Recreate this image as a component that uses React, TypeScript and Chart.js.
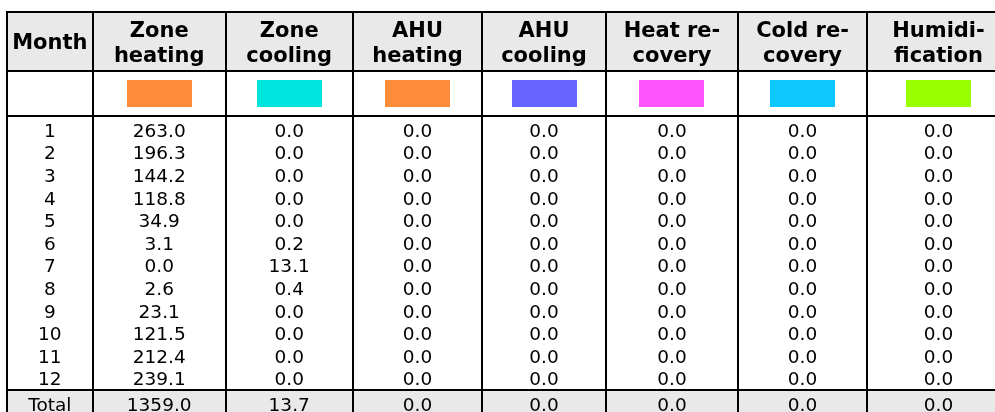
import React, { useEffect, useRef } from "react";
import { Chart, registerables } from "chart.js";

Chart.register(...registerables);

// ---- data ----
const months = ["1", "2", "3", "4", "5", "6", "7", "8", "9", "10", "11", "12"];
const firstHeader = "Month";
const totalLabel = "Total";
const seriesHeaders = [
  ["Zone", "heating"],
  ["Zone", "cooling"],
  ["AHU", "heating"],
  ["AHU", "cooling"],
  ["Heat re-", "covery"],
  ["Cold re-", "covery"],
  ["Humidi-", "fication"],
];
const swatchColors = ["#FD8C3A", "#00E4DE", "#FD8C3A", "#6666FF", "#FF55FF", "#0DC7FF", "#99FF00"];
const zoneHeating = [263.0, 196.3, 144.2, 118.8, 34.9, 3.1, 0.0, 2.6, 23.1, 121.5, 212.4, 239.1];
const zoneCooling = [0.0, 0.0, 0.0, 0.0, 0.0, 0.2, 13.1, 0.4, 0.0, 0.0, 0.0, 0.0];
const ahuHeating = [0.0, 0.0, 0.0, 0.0, 0.0, 0.0, 0.0, 0.0, 0.0, 0.0, 0.0, 0.0];
const ahuCooling = [0.0, 0.0, 0.0, 0.0, 0.0, 0.0, 0.0, 0.0, 0.0, 0.0, 0.0, 0.0];
const heatRecovery = [0.0, 0.0, 0.0, 0.0, 0.0, 0.0, 0.0, 0.0, 0.0, 0.0, 0.0, 0.0];
const coldRecovery = [0.0, 0.0, 0.0, 0.0, 0.0, 0.0, 0.0, 0.0, 0.0, 0.0, 0.0, 0.0];
const humidification = [0.0, 0.0, 0.0, 0.0, 0.0, 0.0, 0.0, 0.0, 0.0, 0.0, 0.0, 0.0];
const totals = [1359.0, 13.7, 0.0, 0.0, 0.0, 0.0, 0.0];

const seriesValues = [zoneHeating, zoneCooling, ahuHeating, ahuCooling, heatRecovery, coldRecovery, humidification];

// ---- layout (scale units) ----
const W = 995;
const H = 412;
const TABLE_LEFT = 7;
const COL_W = [85.7, 133, 127, 129.6, 123.4, 132.6, 128.4, 143.6];
const TABLE_TOP = 12;
const HEADER_H = 58.7;
const SWATCH_ROW_H = 45.6;
const BODY_PAD = 2.4;
const ROW_H = 22.6;
const TOTAL_H = 28.8;
const SWATCH_W = 65;
const SWATCH_H = 27;
const DATA_FONT = 18.5;
const HEAD_FONT = 21;
const HEAD_LINE_GAP = 25.6;
const FAMILY = '"DejaVu Sans", Verdana, sans-serif';
const GRID = "#000000";
const HEAD_BG = "#E9E9E9";

const tablePlugin = {
  id: "tablePlugin",
  afterDraw(chart: any) {
    const ctx = chart.ctx as CanvasRenderingContext2D;
    const xs = chart.scales.x;
    const ys = chart.scales.y;
    const px = (v: number) => xs.getPixelForValue(v);
    const py = (v: number) => ys.getPixelForValue(v);

    const edges: number[] = [TABLE_LEFT];
    COL_W.forEach((w) => edges.push(edges[edges.length - 1] + w));
    const centers = COL_W.map((w, i) => edges[i] + w / 2);

    const headBottom = TABLE_TOP + HEADER_H;
    const swatchBottom = headBottom + SWATCH_ROW_H;
    const bodyTop = swatchBottom + BODY_PAD;
    const totalTop = bodyTop + months.length * ROW_H;
    const totalBottom = totalTop + TOTAL_H;
    const right = edges[edges.length - 1];

    ctx.save();
    // backgrounds
    ctx.fillStyle = HEAD_BG;
    ctx.fillRect(px(TABLE_LEFT), py(TABLE_TOP), px(right) - px(TABLE_LEFT), py(headBottom) - py(TABLE_TOP));
    ctx.fillRect(px(TABLE_LEFT), py(totalTop), px(right) - px(TABLE_LEFT), py(totalBottom) - py(totalTop));

    // swatches
    const swC = (headBottom + swatchBottom) / 2;
    swatchColors.forEach((c, i) => {
      const cx = centers[i + 1];
      const l = Math.round(px(cx - SWATCH_W / 2));
      const t = Math.round(py(swC - SWATCH_H / 2));
      ctx.fillStyle = c;
      ctx.fillRect(l, t, Math.round(px(cx + SWATCH_W / 2)) - l, Math.round(py(swC + SWATCH_H / 2)) - t);
    });

    // header text
    ctx.fillStyle = "#000";
    ctx.textAlign = "center";
    ctx.textBaseline = "alphabetic";
    ctx.font = `bold ${HEAD_FONT}px ${FAMILY}`;
    const capH = 0.729;
    const hc = (TABLE_TOP + headBottom) / 2;
    ctx.fillText(firstHeader, px(centers[0]), py(hc) + (capH * HEAD_FONT) / 2);
    seriesHeaders.forEach((lines, i) => {
      const cx = px(centers[i + 1]);
      lines.forEach((t, j) => {
        const c = hc + 0.6 + (j - (lines.length - 1) / 2) * HEAD_LINE_GAP;
        ctx.fillText(t, cx, py(c) + (capH * HEAD_FONT) / 2);
      });
    });

    // body text
    ctx.font = `${DATA_FONT}px ${FAMILY}`;
    const off = (capH * DATA_FONT) / 2;
    months.forEach((m, r) => {
      const c = bodyTop + (r + 0.5) * ROW_H;
      ctx.fillText(m, px(centers[0]), py(c) + off);
      seriesValues.forEach((vals, s) => {
        ctx.fillText(vals[r].toFixed(1), px(centers[s + 1]), py(c) + off);
      });
    });
    const tc = totalTop + TOTAL_H / 2;
    ctx.fillText(totalLabel, px(centers[0]), py(tc) + off);
    totals.forEach((v, s) => {
      ctx.fillText(v.toFixed(1), px(centers[s + 1]), py(tc) + off);
    });

    // grid lines
    ctx.strokeStyle = GRID;
    ctx.lineWidth = 2;
    const R = (v: number) => Math.round(v);
    ctx.beginPath();
    edges.forEach((e) => {
      ctx.moveTo(R(px(e)), R(py(TABLE_TOP)) - 1);
      ctx.lineTo(R(px(e)), R(py(totalBottom)) + 1);
    });
    [TABLE_TOP, headBottom, swatchBottom, totalTop, totalBottom].forEach((h) => {
      ctx.moveTo(R(px(TABLE_LEFT)) - 1, R(py(h)));
      ctx.lineTo(R(px(right)) + 1, R(py(h)));
    });
    ctx.stroke();
    ctx.restore();
  },
};

export default function App() {
  const ref = useRef<HTMLCanvasElement | null>(null);
  useEffect(() => {
    if (!ref.current) return;
    const chart = new Chart(ref.current, {
      type: "scatter",
      data: { datasets: [] },
      options: {
        animation: false,
        responsive: false,
        devicePixelRatio: 1,
        layout: { padding: 0 },
        plugins: { legend: { display: false }, tooltip: { enabled: false } },
        scales: {
          x: { type: "linear", min: 0, max: W, display: false },
          y: { type: "linear", min: 0, max: H, reverse: true, display: false },
        },
      },
      plugins: [tablePlugin],
    } as any);
    return () => chart.destroy();
  }, []);
  return (
    <div style={{ position: "absolute", left: 0, top: 0, width: W, height: H, background: "#fff" }}>
      <canvas ref={ref} width={W} height={H} style={{ display: "block", width: W, height: H }} />
    </div>
  );
}
